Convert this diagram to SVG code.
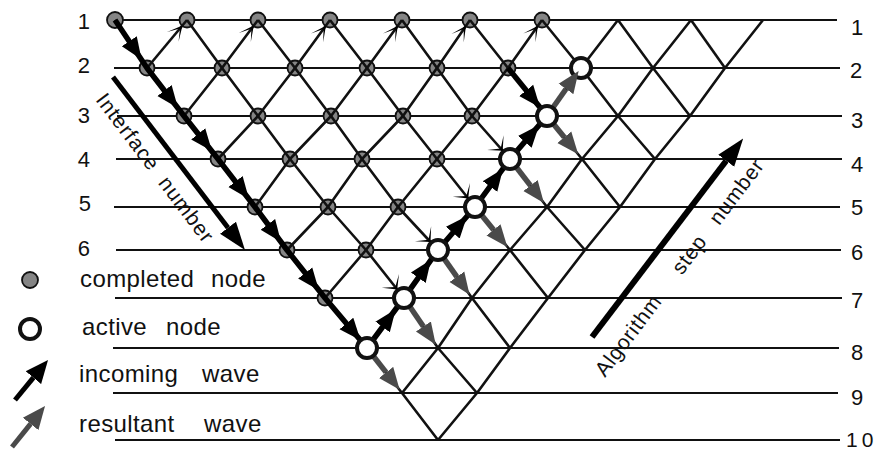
<svg xmlns="http://www.w3.org/2000/svg" width="881" height="451" viewBox="0 0 881 451">
<style>
.h{stroke:#111;stroke-width:2.2;fill:none}
.l{stroke:#111;stroke-width:2.6;fill:none;stroke-linejoin:round}
.done{fill:#858585;stroke:#111;stroke-width:1.8}
.act{fill:#fff;stroke:#111;stroke-width:4}
.inc{stroke:#000;stroke-width:5.5;fill:none;stroke-linejoin:round}
.res{stroke:#4a4a4a;stroke-width:5.5;fill:none}
.t{font-family:"Liberation Sans",Arial,Helvetica,sans-serif;fill:#111}
.num{font-size:22px}
.leg{font-size:24px;letter-spacing:0.4px}
</style>
<defs>
<marker id="hb" viewBox="0 -10 22 20" refX="0" refY="0" markerWidth="22" markerHeight="20" markerUnits="userSpaceOnUse" orient="auto"><path d="M0,-9 L22,0 L0,9 Z" fill="#000"/></marker>
<marker id="hg" viewBox="0 -10 22 20" refX="0" refY="0" markerWidth="22" markerHeight="20" markerUnits="userSpaceOnUse" orient="auto"><path d="M0,-9 L22,0 L0,9 Z" fill="#4a4a4a"/></marker>
<marker id="hbig" viewBox="0 -11 28 22" refX="0" refY="0" markerWidth="28" markerHeight="22" markerUnits="userSpaceOnUse" orient="auto"><path d="M0,-10 L28,0 L0,10 Z" fill="#000"/></marker>
<marker id="hl" viewBox="0 -11 23 22" refX="0" refY="0" markerWidth="23" markerHeight="22" markerUnits="userSpaceOnUse" orient="auto"><path d="M0,-10 L23,0 L0,10 Z" fill="#000"/></marker>
<marker id="hlg" viewBox="0 -11 23 22" refX="0" refY="0" markerWidth="23" markerHeight="22" markerUnits="userSpaceOnUse" orient="auto"><path d="M0,-10 L23,0 L0,10 Z" fill="#4a4a4a"/></marker>
<marker id="dart" viewBox="-16 -9 17 18" refX="0" refY="0" markerWidth="17" markerHeight="18" markerUnits="userSpaceOnUse" orient="auto"><path d="M0,0 L-15,-7.5 L-4,0 L-15,7.5 Z" fill="#000"/></marker>
<marker id="star" viewBox="-13 -12 14 24" refX="0" refY="0" markerWidth="14" markerHeight="24" markerUnits="userSpaceOnUse" orient="auto"><path d="M0,0 L-11,-11 L-3,0 L-11,11 Z" fill="#000"/></marker>
</defs>
<rect width="881" height="451" fill="#fff"/>

<g id="levels">
<path class="h" d="M115,20 H837 M114,68 H840 M117,116 H842 M116,159 H842 M114,207 H840 M116,250 H841 M115,298 H842 M113,348 H839 M113,393 H838 M115,440 H840"/>
</g>

<g id="completed-nodes">
<g id="n0-0"><circle class="done" cx="115" cy="20" r="8"/></g>
<g id="n0-1"><circle class="done" cx="187" cy="20" r="7.5"/></g>
<g id="n0-2"><circle class="done" cx="258" cy="20" r="7.5"/></g>
<g id="n0-3"><circle class="done" cx="330" cy="20" r="7.5"/></g>
<g id="n0-4"><circle class="done" cx="402" cy="20" r="7.5"/></g>
<g id="n0-5"><circle class="done" cx="470" cy="20" r="7.5"/></g>
<g id="n0-6"><circle class="done" cx="542" cy="20" r="7.5"/></g>
<g id="n1-0"><circle class="done" cx="147" cy="68" r="7.5"/></g>
<g id="n1-1"><circle class="done" cx="222" cy="68" r="7.5"/></g>
<g id="n1-2"><circle class="done" cx="295" cy="68" r="7.5"/></g>
<g id="n1-3"><circle class="done" cx="367" cy="68" r="7.5"/></g>
<g id="n1-4"><circle class="done" cx="437" cy="68" r="7.5"/></g>
<g id="n1-5"><circle class="done" cx="508" cy="68" r="7.5"/></g>
<g id="n2-0"><circle class="done" cx="184" cy="116" r="7.5"/></g>
<g id="n2-1"><circle class="done" cx="258" cy="116" r="7.5"/></g>
<g id="n2-2"><circle class="done" cx="331" cy="116" r="7.5"/></g>
<g id="n2-3"><circle class="done" cx="403" cy="116" r="7.5"/></g>
<g id="n2-4"><circle class="done" cx="472" cy="116" r="7.5"/></g>
<g id="n3-0"><circle class="done" cx="218" cy="159" r="7.5"/></g>
<g id="n3-1"><circle class="done" cx="290" cy="159" r="7.5"/></g>
<g id="n3-2"><circle class="done" cx="362" cy="159" r="7.5"/></g>
<g id="n3-3"><circle class="done" cx="437" cy="159" r="7.5"/></g>
<g id="n4-0"><circle class="done" cx="255" cy="207" r="7.5"/></g>
<g id="n4-1"><circle class="done" cx="328" cy="207" r="7.5"/></g>
<g id="n4-2"><circle class="done" cx="398" cy="207" r="7.5"/></g>
<g id="n5-0"><circle class="done" cx="287" cy="250" r="7.5"/></g>
<g id="n5-1"><circle class="done" cx="366" cy="250" r="7.5"/></g>
<g id="n6-0"><circle class="done" cx="325" cy="298" r="7.5"/></g>
</g>

<g id="connectors">
<path class="l" d="M115,20 L147,68 L184,116 L218,159 L255,207 L287,250 L325,298 L367,348 L402,393 L438,440"/>
<path class="l" d="M187,20 L222,68 L258,116 L290,159 L328,207 L366,250 L404,298 L438,348 L477,393"/>
<path class="l" d="M258,20 L295,68 L331,116 L362,159 L398,207 L438,250 L472,298 L510,348"/>
<path class="l" d="M330,20 L367,68 L403,116 L437,159 L475,207 L510,250 L548,298"/>
<path class="l" d="M402,20 L437,68 L472,116 L510,159 L547,207 L585,250"/>
<path class="l" d="M470,20 L508,68 L547,116 L582,159 L620,207"/>
<path class="l" d="M542,20 L581,68 L618,116 L655,159"/>
<path class="l" d="M618,20 L653,68 L690,116"/>
<path class="l" d="M691,20 L725,68"/>
<path class="l" d="M187,20 L147,68"/>
<path class="l" d="M258,20 L222,68 L184,116"/>
<path class="l" d="M330,20 L295,68 L258,116 L218,159"/>
<path class="l" d="M402,20 L367,68 L331,116 L290,159 L255,207"/>
<path class="l" d="M470,20 L437,68 L403,116 L362,159 L328,207 L287,250"/>
<path class="l" d="M542,20 L508,68 L472,116 L437,159 L398,207 L366,250 L325,298"/>
<path class="l" d="M618,20 L581,68 L547,116 L510,159 L475,207 L438,250 L404,298 L367,348"/>
<path class="l" d="M691,20 L653,68 L618,116 L582,159 L547,207 L510,250 L472,298 L438,348 L402,393"/>
<path class="l" d="M763,20 L725,68 L690,116 L655,159 L620,207 L585,250 L548,298 L510,348 L477,393 L438,440"/>

<path class="inc" d="M115,20 L147,68 L184,116 L218,159 L255,207 L287,250 L325,298 L367,348"/>
<path class="inc" d="M508,68 L547,116"/>
<path class="inc" d="M367,348 L404,298 L438,250 L475,207 L510,159 L547,116"/>
<path class="res" d="M547,116 L566,89"/>
<path class="res" d="M547,116 L564.3,137.2"/>
<path class="res" d="M510,159 L530.5,185.6"/>
<path class="res" d="M475,207 L493.5,229.8"/>
<path class="res" d="M438,250 L456.9,276.8"/>
<path class="res" d="M404,298 L423.4,326.5"/>
<path class="res" d="M367,348 L386.1,372.4"/>
</g>

<g id="active-nodes">
<g id="a1-6"><circle class="act" cx="581" cy="68" r="10"/></g>
<g id="a2-5"><circle class="act" cx="547" cy="116" r="10"/></g>
<g id="a3-4"><circle class="act" cx="510" cy="159" r="10"/></g>
<g id="a4-3"><circle class="act" cx="475" cy="207" r="10"/></g>
<g id="a5-2"><circle class="act" cx="438" cy="250" r="10"/></g>
<g id="a6-1"><circle class="act" cx="404" cy="298" r="10"/></g>
<g id="a7-0"><circle class="act" cx="367" cy="348" r="10"/></g>
</g>

<g id="arrowheads" fill="none" stroke="none">
<path d="M115,20 L129.3,41.3" marker-end="url(#hb)"/>
<path d="M147,68 L164.5,90.6" marker-end="url(#hb)"/>
<path d="M184,116 L198.2,133.8" marker-end="url(#hb)"/>
<path d="M218,159 L235.5,181.6" marker-end="url(#hb)"/>
<path d="M255,207 L267.9,224.4" marker-end="url(#hb)"/>
<path d="M287,250 L305.2,273" marker-end="url(#hb)"/>
<path d="M325,298 L346.4,323.5" marker-end="url(#hb)"/>
<path d="M508,68 L526.2,90.4" marker-end="url(#hb)"/>
<path d="M367,348 L382.6,327" marker-end="url(#hb)"/>
<path d="M404,298 L418.3,277.7" marker-end="url(#hb)"/>
<path d="M438,250 L452.8,232.7" marker-end="url(#hb)"/>
<path d="M475,207 L490,186.5" marker-end="url(#hb)"/>
<path d="M510,159 L524.8,141.8" marker-end="url(#hb)"/>
<path d="M547,116 L566,89" marker-end="url(#hg)"/>
<path d="M547,116 L564.3,137.2" marker-end="url(#hg)"/>
<path d="M510,159 L530.5,185.6" marker-end="url(#hg)"/>
<path d="M475,207 L493.5,229.8" marker-end="url(#hg)"/>
<path d="M438,250 L456.9,276.8" marker-end="url(#hg)"/>
<path d="M404,298 L423.4,326.5" marker-end="url(#hg)"/>
<path d="M367,348 L386.1,372.4" marker-end="url(#hg)"/>
<path d="M179.3,29.2 L182.5,25.4" marker-end="url(#dart)"/>
<path d="M250.8,29.6 L253.8,25.6" marker-end="url(#dart)"/>
<path d="M323,29.7 L325.9,25.7" marker-end="url(#dart)"/>
<path d="M395,29.7 L397.9,25.7" marker-end="url(#dart)"/>
<path d="M463.2,29.9 L466,25.8" marker-end="url(#dart)"/>
<path d="M535.1,29.8 L538,25.7" marker-end="url(#dart)"/>
<path d="M499.4,147.1 L502.7,150.8" marker-end="url(#star)"/>
<path d="M465.1,194.5 L468.2,198.4" marker-end="url(#star)"/>
<path d="M427.1,238.2 L430.5,241.9" marker-end="url(#star)"/>
<path d="M394.1,285.5 L397.2,289.4" marker-end="url(#star)"/>
</g>

<g id="interface-axis">
<path d="M113,77 L228,227.7" stroke="#000" stroke-width="5" fill="none" marker-end="url(#hbig)"/>
<text class="t" font-size="21" letter-spacing="1" transform="translate(95,100) rotate(53)"><tspan x="0">Interface</tspan><tspan x="104">number</tspan></text>
</g>

<g id="step-axis">
<path d="M592,337 L726.2,160.7" stroke="#000" stroke-width="6" fill="none" marker-end="url(#hbig)"/>
<text class="t" font-size="21" letter-spacing="0.8" transform="translate(605,378) rotate(-53)"><tspan x="0">Algorithm</tspan><tspan x="128">step</tspan><tspan x="190">number</tspan></text>
</g>

<g id="left-labels" class="t num" text-anchor="end">
<text x="90" y="29">1</text>
<text x="90" y="73">2</text>
<text x="90" y="123">3</text>
<text x="90" y="167">4</text>
<text x="91" y="211">5</text>
<text x="90" y="256">6</text>
</g>

<g id="right-labels" class="t num">
<text x="851" y="35">1</text>
<text x="850" y="78">2</text>
<text x="851" y="128">3</text>
<text x="851" y="172">4</text>
<text x="851" y="215">5</text>
<text x="851" y="260">6</text>
<text x="851" y="308">7</text>
<text x="851" y="360">8</text>
<text x="851" y="405">9</text>
<text x="846" y="447" font-size="21" letter-spacing="4">10</text>
</g>

<g id="legend">
<g id="legend-completed"><circle class="done" cx="30" cy="280" r="8"/><text class="t leg" y="287"><tspan x="80">completed</tspan><tspan x="211">node</tspan></text></g>
<g id="legend-active"><circle cx="30" cy="329" r="10" fill="#fff" stroke="#111" stroke-width="4"/><text class="t leg" y="335"><tspan x="82">active</tspan><tspan x="166">node</tspan></text></g>
<g id="legend-incoming"><path d="M15,400 L33.4,377.7" stroke="#000" stroke-width="5" fill="none" marker-end="url(#hl)"/><text class="t leg" y="382"><tspan x="79">incoming</tspan><tspan x="202">wave</tspan></text></g>
<g id="legend-resultant"><path d="M12,447 L30.6,423.9" stroke="#4a4a4a" stroke-width="5" fill="none" marker-end="url(#hlg)"/><text class="t leg" y="432"><tspan x="79">resultant</tspan><tspan x="204">wave</tspan></text></g>
</g>
</svg>
